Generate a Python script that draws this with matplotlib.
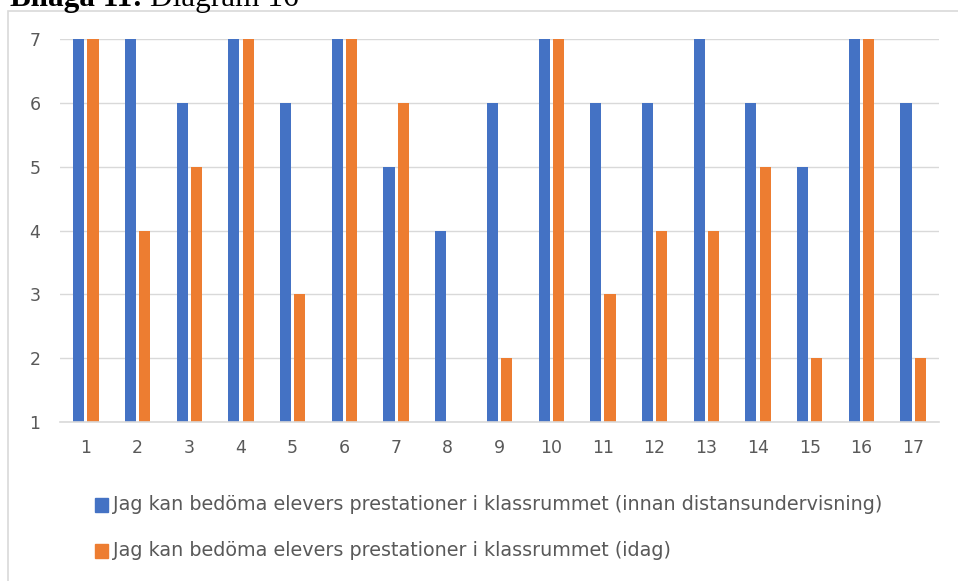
import matplotlib.pyplot as plt
import numpy as np
from matplotlib.patches import Rectangle

# data
kategorier = [str(i) for i in range(1, 18)]
innan = [7, 7, 6, 7, 6, 7, 5, 4, 6, 7, 6, 6, 7, 6, 5, 7, 6]
idag = [7, 4, 5, 7, 3, 7, 6, 1, 2, 7, 3, 4, 4, 5, 2, 7, 2]
serie_namn = [
    "Jag kan bedöma elevers prestationer i klassrummet (innan distansundervisning)",
    "Jag kan bedöma elevers prestationer i klassrummet (idag)",
]
farger = ["#4472C4", "#ED7D31"]
textfarg = "#595959"

W, H = 958, 581
fig = plt.figure(figsize=(W / 100, H / 100), dpi=100)

# chart frame
fig.patches.append(Rectangle((8 / W, -0.01), (W - 7) / W, (H - 11) / H + 0.01,
                             transform=fig.transFigure, fill=False,
                             edgecolor="#D9D9D9", linewidth=1.2))

ax = fig.add_axes([60 / W, 1 - 422 / H, (939 - 60) / W, (422 - 39) / H])
x = np.arange(len(kategorier))
bw = 0.215
base = 1
ax.bar(x - 0.03 - bw / 2, np.array(innan) - base, bw, bottom=base, color=farger[0], label=serie_namn[0])
ax.bar(x + 0.03 + bw / 2, np.array(idag) - base, bw, bottom=base, color=farger[1], label=serie_namn[1])

ax.set_xlim(-0.5, len(kategorier) - 0.5)
ax.set_ylim(1, 7)
ax.set_yticks(range(1, 8))
ax.set_xticks(x)
ax.set_xticklabels(kategorier)
ax.yaxis.grid(True, color="#D9D9D9", linewidth=1)
ax.set_axisbelow(True)
for s in ["top", "right", "left"]:
    ax.spines[s].set_visible(False)
ax.spines["bottom"].set_color("#D9D9D9")
ax.spines["bottom"].set_linewidth(1.2)
ax.tick_params(length=0, labelsize=12.5, colors=textfarg, pad=12)
ax.tick_params(axis="y", pad=14)
ax.set_facecolor("none")

# legend
for i, namn in enumerate(serie_namn):
    yy = 1 - (505 + i * 46) / H
    fig.patches.append(Rectangle((95 / W, yy - 7 / H), 13 / W, 14 / H,
                                 transform=fig.transFigure, color=farger[i]))
    fig.text(113 / W, yy, namn, fontsize=13.8, color=textfarg, va="center")

# title (cut off at top, as in the original)
fig.text(10 / W, 1 - 6 / H, "Bilaga 11:", fontsize=22.5, fontweight="bold",
         family="Liberation Serif", va="baseline")
fig.text(150 / W, 1 - 6 / H, "Diagram 16", fontsize=22.5,
         family="Liberation Serif", va="baseline")

fig.savefig("out.png", dpi=100)
